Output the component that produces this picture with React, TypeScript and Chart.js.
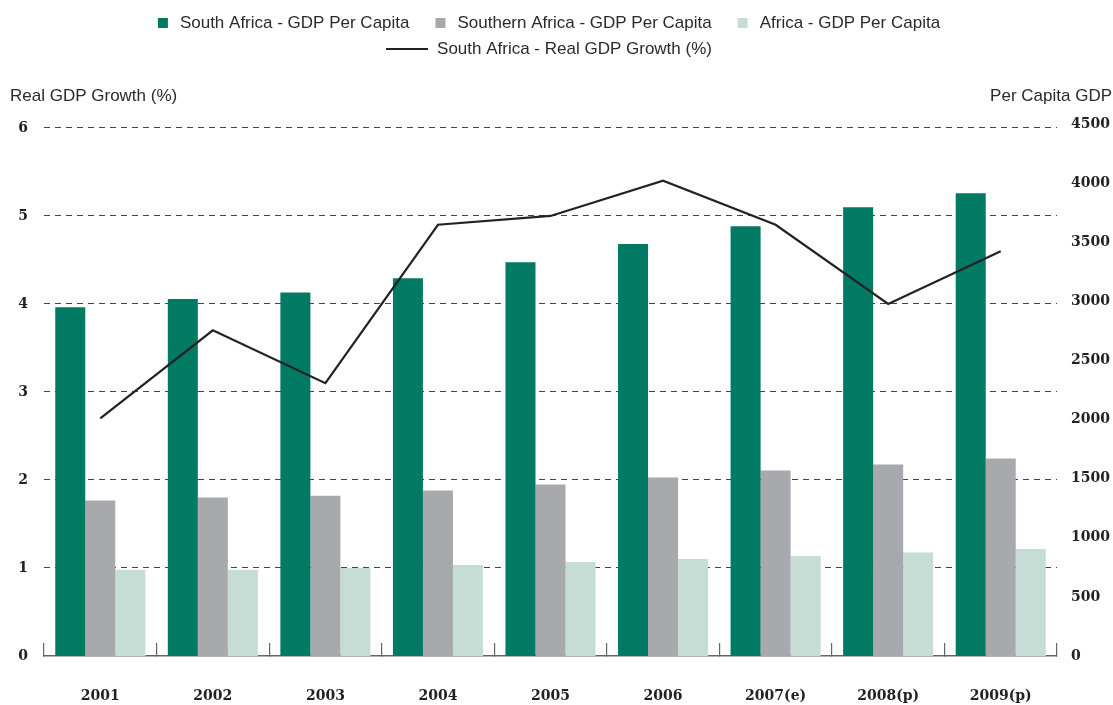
import React, { useEffect, useRef } from "react";
import { Chart, registerables } from "chart.js";

Chart.register(...registerables);

const categories = ["2001", "2002", "2003", "2004", "2005", "2006", "2007(e)", "2008(p)", "2009(p)"];
const southAfricaPerCapita = [2950, 3020, 3075, 3195, 3330, 3485, 3635, 3795, 3915];
const southernAfricaPerCapita = [1315, 1340, 1355, 1400, 1450, 1510, 1570, 1620, 1670];
const africaPerCapita = [730, 730, 745, 770, 795, 820, 845, 875, 905];
const southAfricaRealGrowth = [2.7, 3.7, 3.1, 4.9, 5.0, 5.4, 4.9, 4.0, 4.6];

const seriesNames = [
  "South Africa - GDP Per Capita",
  "Southern Africa - GDP Per Capita",
  "Africa - GDP Per Capita",
  "South Africa - Real GDP Growth (%)",
];
const leftAxisTitle = "Real GDP Growth (%)";
const rightAxisTitle = "Per Capita GDP";

const GREEN = "#007a62";
const GREY = "#a8a9ad";
const LIGHT = "#c6ddd5";
const LINE = "#222222";
const TEXT = "#2a2a2a";
const SANS = '17px "Liberation Sans", Arial, sans-serif';

const overlayPlugin = {
  id: "overlay",
  afterDraw(chart: any) {
    const ctx = chart.ctx;
    ctx.save();
    ctx.font = SANS;
    ctx.fillStyle = TEXT;
    ctx.textBaseline = "middle";

    // axis titles
    ctx.textAlign = "left";
    ctx.fillText(leftAxisTitle, 10, 96);
    ctx.textAlign = "right";
    ctx.fillText(rightAxisTitle, 1112, 96);

    // legend row 1
    ctx.textAlign = "left";
    const center = 549;
    const colors = [GREEN, GREY, LIGHT];
    const gap = 26;
    const widths = [0, 1, 2].map((i) => 22 + ctx.measureText(seriesNames[i]).width);
    const total = widths.reduce((a, b) => a + b, 0) + gap * 2;
    let x = center - total / 2;
    const y1 = 23;
    for (let i = 0; i < 3; i++) {
      ctx.fillStyle = colors[i];
      ctx.fillRect(x, y1 - 5, 10, 10);
      ctx.fillStyle = TEXT;
      ctx.fillText(seriesNames[i], x + 22, y1);
      x += widths[i] + gap;
    }
    // legend row 2
    const y2 = 49;
    const w2 = 42 + 9 + ctx.measureText(seriesNames[3]).width;
    const x2 = center - w2 / 2;
    ctx.strokeStyle = LINE;
    ctx.lineWidth = 1.8;
    ctx.beginPath();
    ctx.moveTo(x2, y2);
    ctx.lineTo(x2 + 42, y2);
    ctx.stroke();
    ctx.fillStyle = TEXT;
    ctx.fillText(seriesNames[3], x2 + 51, y2);
    ctx.restore();
  },
};

export default function App() {
  const ref = useRef<HTMLCanvasElement | null>(null);
  useEffect(() => {
    if (!ref.current) return;
    const tickFont = { family: '"DejaVu Serif", serif', size: 14, weight: "bold" as const };
    const chart = new Chart(ref.current, {
      type: "bar",
      data: {
        labels: categories,
        datasets: [
          {
            type: "line" as const,
            label: seriesNames[3],
            data: southAfricaRealGrowth,
            borderColor: LINE,
            backgroundColor: LINE,
            borderWidth: 2.2,
            pointRadius: 0,
            tension: 0,
            yAxisID: "y",
            order: 0,
          },
          {
            label: seriesNames[0],
            data: southAfricaPerCapita,
            backgroundColor: GREEN,
            yAxisID: "y1",
            order: 1,
          },
          {
            label: seriesNames[1],
            data: southernAfricaPerCapita,
            backgroundColor: GREY,
            yAxisID: "y1",
            order: 1,
          },
          {
            label: seriesNames[2],
            data: africaPerCapita,
            backgroundColor: LIGHT,
            yAxisID: "y1",
            order: 1,
          },
        ] as any,
      },
      options: {
        animation: false,
        responsive: false,
        devicePixelRatio: 1,
        layout: { padding: { top: 124, left: 0, right: 0, bottom: 0 } },
        datasets: { bar: { categoryPercentage: 0.8, barPercentage: 1.0 } },
        plugins: {
          legend: { display: false },
          tooltip: { enabled: false },
          title: { display: false },
        },
        scales: {
          x: {
            offset: true,
            grid: {
              display: true,
              drawOnChartArea: false,
              drawTicks: true,
              tickLength: -13,
              color: "#666",
              lineWidth: 1.2,
              offset: true,
            },
            border: { display: true, color: "#666", width: 1.5 },
            ticks: { font: tickFont, color: "#222", padding: 45, maxRotation: 0, autoSkip: false },
            afterFit: (s: any) => {
              s.height = 49;
            },
          },
          y: {
            position: "left",
            min: 0,
            max: 6.045,
            ticks: { stepSize: 1, includeBounds: false, font: tickFont, color: "#222", padding: 16 },
            grid: {
              drawTicks: false,
              color: (c: any) => (c.tick && c.tick.value === 0 ? "rgba(0,0,0,0)" : "#444"),
              lineWidth: 1,
            },
            border: { display: false, dash: [6, 5] },
            afterFit: (s: any) => {
              s.width = 44;
            },
          },
          y1: {
            position: "right",
            min: 0,
            max: 4500,
            ticks: {
              stepSize: 500,
              font: tickFont,
              color: "#222",
              padding: 14,
              callback: (v: any) => String(v),
            },
            grid: { display: false, drawTicks: false },
            border: { display: false },
            afterFit: (s: any) => {
              s.width = 56;
            },
          },
        },
      } as any,
      plugins: [overlayPlugin],
    });
    return () => chart.destroy();
  }, []);
  return (
    <div style={{ position: "absolute", left: 0, top: 0, width: 1113, height: 705, background: "#fff" }}>
      <canvas ref={ref} width={1113} height={705} style={{ display: "block" }} />
    </div>
  );
}
